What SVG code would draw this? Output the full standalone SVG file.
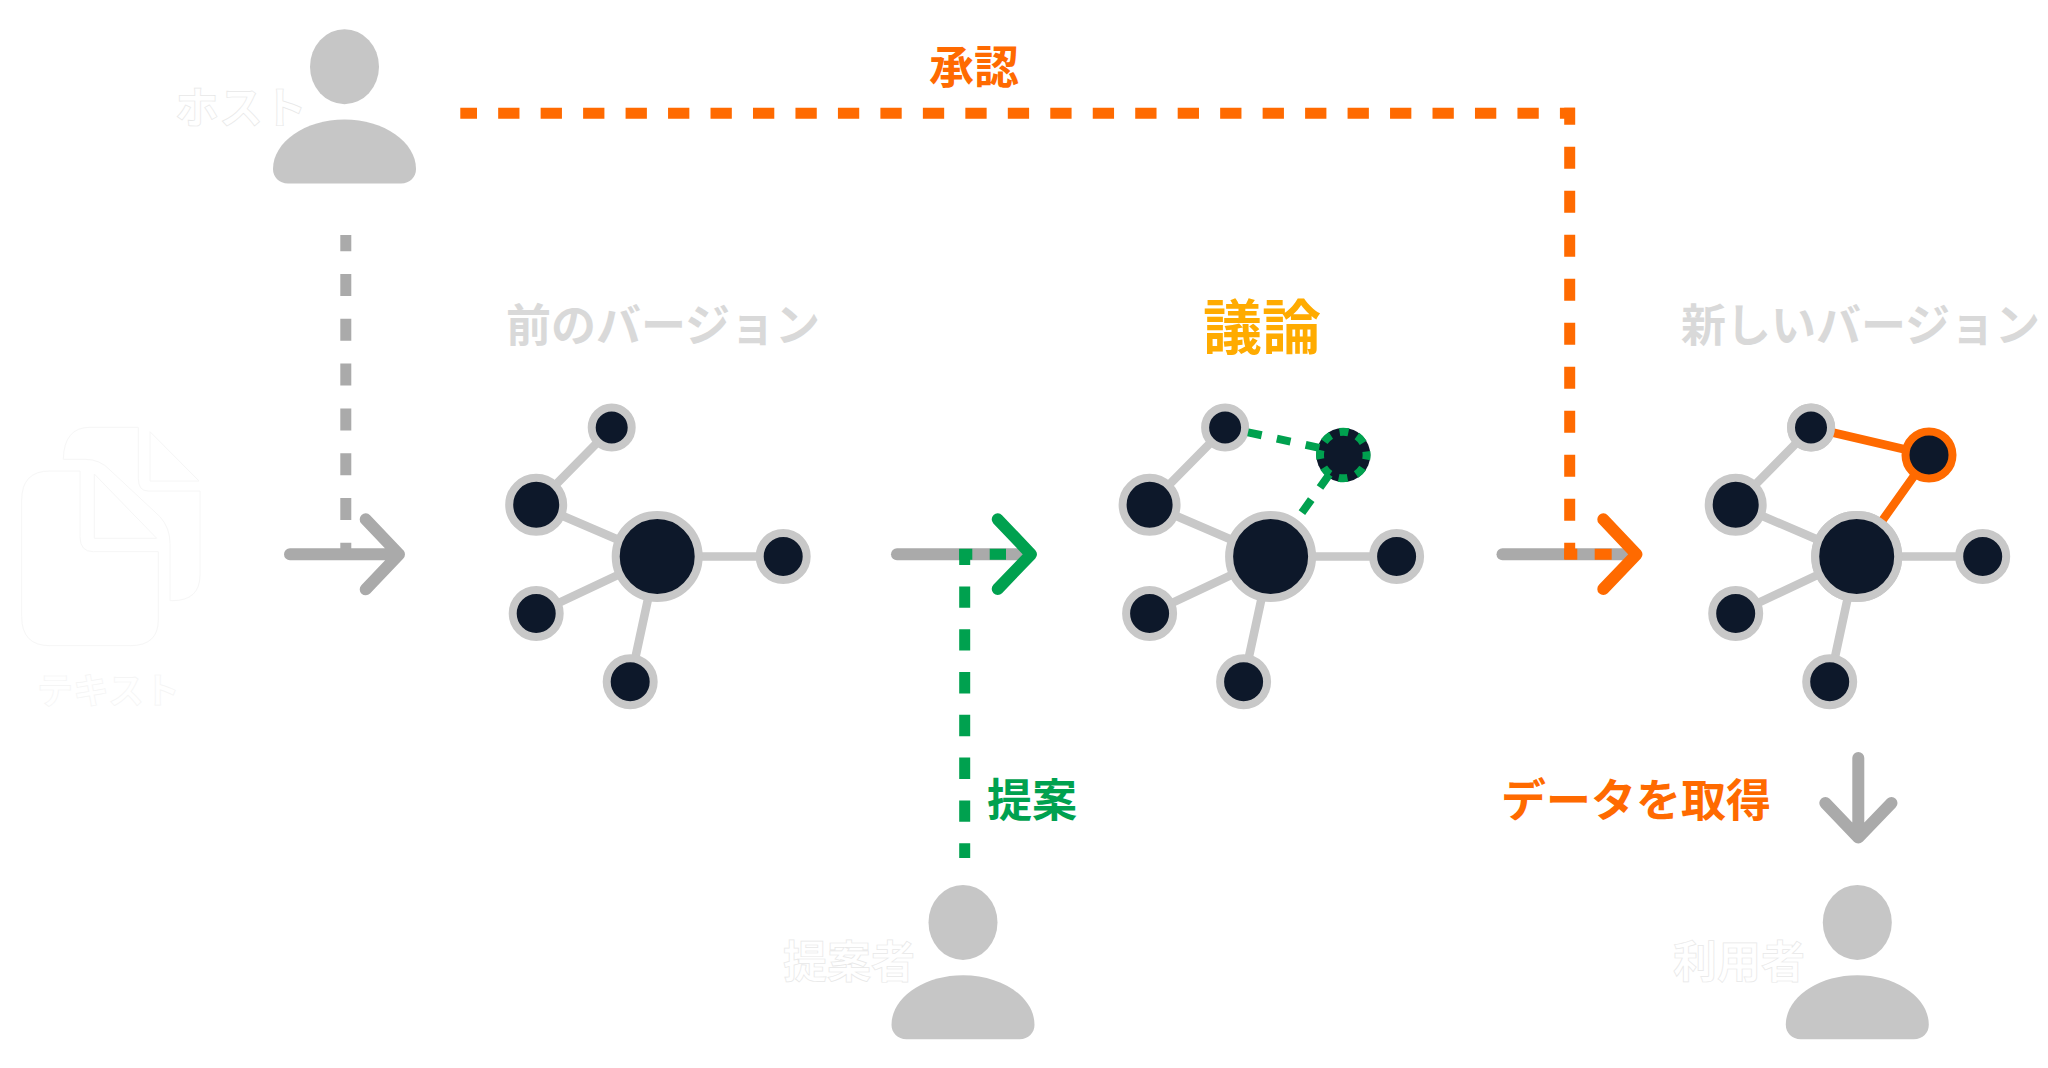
<svg xmlns="http://www.w3.org/2000/svg" width="2048" height="1068" viewBox="0 0 2048 1068">
<style>
text{font-family:"Noto Sans CJK JP","Noto Sans",sans-serif;font-weight:700}
.ghost{font-size:44px;fill:#fff;stroke:#e8e8e8;stroke-width:.7px}
.ver{font-size:45px;fill:#d9d9d9}
.or{fill:#ff6a00;font-size:45px}
.gr{fill:#00a14f;font-size:45px}
.am{fill:#ffab00;font-size:59px}
.edge{stroke:#c8c8c8;stroke-width:8.5;fill:none}
.oedge{stroke:#ff6a00;stroke-width:8.5;fill:none}
.gedge{stroke:#00a14f;stroke-width:8;fill:none}
.n{fill:#0d182a;stroke:#c8c8c8;stroke-width:8}
.p{fill:#c6c6c6}
.doc{fill:#fff;stroke:#f6f6f6;stroke-width:1}
.shaft{stroke:#aaaaaa;stroke-width:12;fill:none;stroke-linecap:round;stroke-linejoin:round}
.dg{stroke:#aaaaaa;stroke-width:11;fill:none}
.dgr{stroke:#00a14f;stroke-width:11;fill:none}
.dor{stroke:#ff6a00;stroke-width:11;fill:none}
.hg{stroke:#00a14f;stroke-width:12;fill:none;stroke-linecap:round;stroke-linejoin:round}
.ho{stroke:#ff6a00;stroke-width:12;fill:none;stroke-linecap:round;stroke-linejoin:round}
</style>
<defs>
<g id="person">
<ellipse class="p" cx="344.5" cy="66.7" rx="34.5" ry="37.5"/>
<path class="p" d="M288 183.5H401C410 183.5 416 177 416 169C416 142 384 119.5 344.5 119.5C305 119.5 273 142 273 169C273 177 279 183.5 288 183.5Z"/>
</g>
<g id="graph">
<path class="edge" d="M-45 -129L-121 -52M-121 -52L0 0M0 0L-121 57M0 0L-27 125M0 0H126"/>
<circle class="n" cx="0" cy="0" r="41.5"/>
<circle class="n" cx="-45.5" cy="-129" r="20"/>
<circle class="n" cx="-121" cy="-51.7" r="27"/>
<circle class="n" cx="-121" cy="57" r="23.5"/>
<circle class="n" cx="-27" cy="125.3" r="23.5"/>
<circle class="n" cx="126" cy="0" r="23.5"/>
</g>
</defs>
<g id="connectors">
<path class="dg" d="M345.8 235V559" stroke-dasharray="22 22.8" stroke-dashoffset="5.8"/>
<path class="shaft" d="M290 554.3H399M365.7 519.3L399 554.3L365.7 589.3"/>
<path class="shaft" d="M897 554.3H1026"/>
<path class="dgr" d="M964.7 549V858" stroke-dasharray="21.4 21.4" stroke-dashoffset="5.4"/>
<path class="dgr" d="M959.3 554.3H972.3M989.7 554.3H1006"/>
<path class="hg" d="M997.7 519.3L1031 554.3L997.7 589"/>
<path class="shaft" d="M1502.5 554.3H1632"/>
<path class="dor" d="M460.3 113.3H1575" stroke-dasharray="21.3 21.17" stroke-dashoffset="4.6"/>
<path class="dor" d="M1569.7 107.8V559" stroke-dasharray="22 22" stroke-dashoffset="5"/>
<path class="dor" d="M1564.3 554.3H1577.3M1594.7 554.3H1611.7"/>
<path class="ho" d="M1603.3 519.3L1636.5 554.3L1603.3 589"/>
<path class="shaft" d="M1858.3 758V837.5M1825.3 803L1858.3 837.5L1891.5 803"/>
</g>
<g id="host"><use href="#person"/><text class="ghost" x="175" y="124">ホスト</text></g>
<g id="text-doc">
<path class="doc" d="M63.3 459.3Q64 427.3 90 427.3H138.3V478.3Q138.3 491 148 491H200V575Q200 600.7 172 600.7H170V543.3Q170 528 160 516.7L110 470Q100 459.3 85 459.3Z"/>
<path class="doc" d="M150 431.7L199 481H150Z"/>
<path class="doc" d="M80 471V536.7Q80 551.7 93.3 551.7H158.3V620Q158.3 645.7 130 645.7H50Q21.7 645.7 21.7 616.7V500Q21.7 471 50 471Z"/>
<path class="doc" d="M94.3 474L156.7 538.3H94.3Z"/>
<text class="ghost" x="37" y="704" style="font-size:36px;stroke:#f4f4f4">テキスト</text>
</g>
<g id="prev-version"><text class="ver" x="506" y="342">前のバージョン</text><use href="#graph" x="657.2" y="556.5"/></g>
<g id="discussion">
<text class="am" x="1203" y="349">議論</text>
<use href="#graph" x="1270.6" y="556.5"/>
<circle cx="1343.3" cy="455" r="27" fill="#0d182a"/>
<circle class="gedge" cx="1343.3" cy="455" r="23.3" stroke-dasharray="9.1 9.2" stroke-dashoffset="4.55"/>
<path class="gedge" d="M1248 432.3L1320 448" stroke-dasharray="14 15.5"/>
<path class="gedge" d="M1329.3 474.5L1301.9 512.7" stroke-dasharray="16 15 16"/>
</g>
<g id="new-version">
<text class="ver" x="1681" y="342">新しいバージョン</text>
<use href="#graph" x="1856.7" y="556.5"/>
<path class="oedge" d="M1811 427.5L1929 455L1856.7 556.5"/>
<circle class="n" cx="1811" cy="427.5" r="20"/>
<circle class="n" cx="1856.7" cy="556.5" r="41.5"/>
<circle class="n" cx="1929" cy="455" r="23.5" style="stroke:#ff6a00"/>
</g>
<g id="proposer"><use href="#person" x="618.5" y="855.7"/><text class="ghost" x="783" y="978">提案者</text></g>
<g id="user"><use href="#person" x="1512.8" y="855.7"/><text class="ghost" x="1673" y="978">利用者</text></g>
<g id="labels">
<text class="or" x="929" y="84">承認</text>
<text class="gr" x="987" y="817">提案</text>
<text class="or" x="1501" y="817">データを取得</text>
</g>
</svg>
